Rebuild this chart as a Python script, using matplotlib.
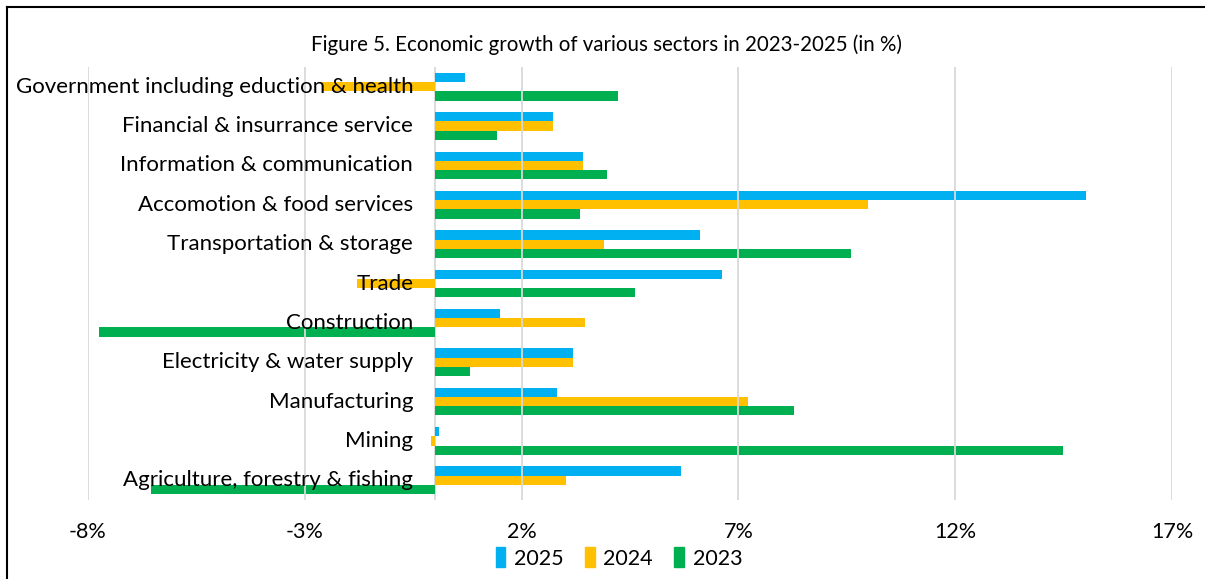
import numpy as np
import matplotlib.pyplot as plt
from matplotlib.lines import Line2D
from matplotlib.ticker import FixedLocator

plt.rcParams['font.family'] = ['Lato', 'DejaVu Sans']

sectors = [
    'Agriculture, forestry & fishing',
    'Mining',
    'Manufacturing',
    'Electricity & water supply',
    'Construction',
    'Trade',
    'Transportation & storage',
    'Accomotion & food services',
    'Information & communication',
    'Financial & insurrance service',
    'Government including eduction & health',
]
growth_2025 = [5.67, 0.09, 2.81, 3.18, 1.50, 6.62, 6.11, 15.01, 3.41, 2.72, 0.70]
growth_2024 = [3.02, -0.09, 7.22, 3.18, 3.46, -1.80, 3.90, 10.00, 3.41, 2.72, -2.60]
growth_2023 = [-6.55, 14.48, 8.28, 0.81, -7.75, 4.61, 9.59, 3.34, 3.97, 1.43, 4.22]
years = ['2025', '2024', '2023']
colors = ['#00b0f0', '#ffc000', '#00b050']
xticks = [-8, -3, 2, 7, 12, 17]

fig = plt.figure(figsize=(12.05, 5.79), dpi=100)
ax = fig.add_axes([88 / 1205, 1 - 500 / 579, (1172 - 88) / 1205, (500 - 67) / 579])

y = np.arange(len(sectors))
h = 0.235
for i, (vals, c, lab) in enumerate(zip([growth_2025, growth_2024, growth_2023], colors, years)):
    ax.barh(y + (1 - i) * h, vals, height=h, color=c, label=lab, zorder=1)

ax.set_xlim(-8, 17)
ax.set_ylim(-0.5, 10.5)
ax.xaxis.set_major_locator(FixedLocator(xticks))
ax.set_xticklabels([f'{t}%' for t in xticks], fontsize=15.5)
ax.tick_params(axis='x', length=0, pad=16)
ax.grid(axis='x', color='#d9d9d9', lw=1.3, zorder=0)
ax.axvline(0, color='#d9d9d9', lw=1.3, zorder=0)
for s in ax.spines.values():
    s.set_visible(False)

# sector names sit just left of the zero line, over any negative bars
ax.set_yticks([])
for yi, name in zip(y, sectors):
    ax.text(-0.5, yi, name, ha='right', va='center', fontsize=16, zorder=3)

fig.text(0.503, 1 - 45 / 579, 'Figure 5. Economic growth of various sectors in 2023-2025 (in %)',
         ha='center', va='center', fontsize=14.8)

handles = [plt.Rectangle((0, 0), 1, 1, color=c) for c in colors]
fig.legend(handles, years, loc='center', bbox_to_anchor=(619 / 1205, 1 - 558 / 579),
           ncol=3, frameon=False, fontsize=15.5, handlelength=0.45, handleheight=1.0,
           handletextpad=0.4, columnspacing=1.0)

# chart border (left and top edges)
fig.add_artist(Line2D([7 / 1205, 7 / 1205], [0, 1 - 7 / 579], color='black', lw=1.5,
                      transform=fig.transFigure))
fig.add_artist(Line2D([7 / 1205, 1], [1 - 7 / 579, 1 - 7 / 579], color='black', lw=1.5,
                      transform=fig.transFigure))

fig.savefig('out.png', dpi=100)
